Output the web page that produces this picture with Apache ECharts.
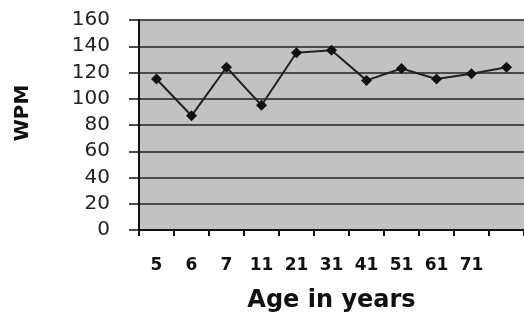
<!DOCTYPE html>
<html>
<head>
<meta charset="utf-8">
<script src="https://cdn.jsdelivr.net/npm/echarts@6/dist/echarts.min.js"></script>
<style>html,body{margin:0;padding:0;background:#fff}#c{width:524px;height:320px}</style>
</head>
<body>
<div id="c"></div>
<script>
var ages = ['5', '6', '7', '11', '21', '31', '41', '51', '61', '71', ''];
var wpm = [115, 87, 124, 95, 135, 137, 114, 123, 115, 119, 124];
var yTicks = [0, 20, 40, 60, 80, 100, 120, 140, 160];

var chart = echarts.init(document.getElementById('c'));
chart.setOption({
  animation: false,
  backgroundColor: '#ffffff',
  grid: {left: 139, top: 20, bottom: 90, right: -4, show: true, backgroundColor: '#c2c2c2', borderWidth: 0},
  xAxis: {
    type: 'category',
    data: ages,
    boundaryGap: true,
    name: 'Age in years',
    nameLocation: 'middle',
    nameGap: 59,
    nameTextStyle: {fontFamily: 'DejaVu Sans', fontWeight: 'bold', fontSize: 24, color: '#111'},
    axisLine: {lineStyle: {color: '#111', width: 2}},
    axisTick: {show: true, length: 6, alignWithLabel: false, lineStyle: {color: '#111', width: 2}},
    axisLabel: {margin: 27, fontFamily: 'DejaVu Sans', fontWeight: 'bold', fontSize: 17, color: '#111', interval: 0},
    splitLine: {show: false}
  },
  yAxis: {
    type: 'value',
    min: yTicks[0],
    max: yTicks[yTicks.length - 1],
    interval: 20,
    axisLine: {show: true, lineStyle: {color: '#111', width: 2}},
    axisTick: {show: true, length: 10, lineStyle: {color: '#111', width: 1.5}},
    axisLabel: {margin: 29, fontFamily: 'DejaVu Sans', fontSize: 20, color: '#222'},
    splitLine: {show: true, lineStyle: {color: '#222', width: 1.5}}
  },
  graphic: [{
    type: 'text',
    x: 23, y: 113,
    rotation: Math.PI / 2,
    style: {text: 'WPM', fontFamily: 'DejaVu Sans', fontWeight: 'bold', fontSize: 20, fill: '#111', textAlign: 'center', textVerticalAlign: 'middle'}
  }],
  series: [{
    type: 'line',
    data: wpm,
    symbol: 'diamond',
    symbolSize: 11,
    itemStyle: {color: '#111'},
    lineStyle: {color: '#222', width: 2}
  }]
});
</script>
</body>
</html>
